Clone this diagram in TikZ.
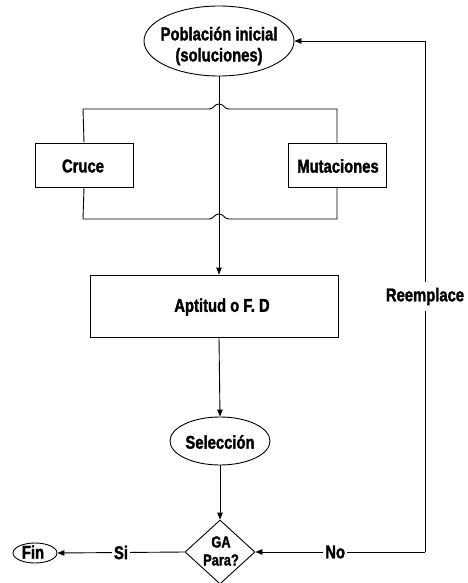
\documentclass[tikz,border=0pt]{standalone}
\usepackage{fontspec}
\setmainfont{Liberation Sans}[FakeStretch=0.8, BoldFeatures={FakeStretch=0.8, FakeBold=1.6}]
\usetikzlibrary{shapes.geometric,arrows.meta}
\begin{document}
\begin{tikzpicture}[x=1pt,y=-1pt,
  line width=0.9pt,
  txt/.style={font=\fontsize{18.5}{21}\selectfont\bfseries, inner sep=0pt, align=center},
  smalltxt/.style={font=\fontsize{16}{18}\selectfont\bfseries, inner sep=0pt, align=center},
  boxn/.style={draw, rectangle, inner sep=0pt},
  ellshape/.style={draw, ellipse, inner sep=0pt},
  lab/.style={txt, fill=white, inner xsep=2pt, inner ysep=1pt},
  arr/.style={-{Triangle[length=7pt,width=5.5pt]}}]
\useasboundingbox (0,0) rectangle (468,583);

% nodes
\node[ellshape, minimum width=150pt, minimum height=70pt] (pop) at (219,41) {};
\node[txt] (poptxt) at (219,46) {Población inicial\\(soluciones)};

\node[boxn, minimum width=98pt, minimum height=44pt] (cruce) at (84,165) {};
\node[txt] (crucetxt) at (83,166) {Cruce};
\node[boxn, minimum width=98pt, minimum height=44pt] (mut) at (337,165) {};
\node[txt] (muttxt) at (338,166) {Mutaciones};

\node[boxn, minimum width=248pt, minimum height=62pt] (apt) at (214,306) {};
\node[txt] (apttxt) at (222,307) {Aptitud o F. D};

\node[ellshape, minimum width=100pt, minimum height=48pt] (sel) at (220,441) {};
\node[txt] (seltxt) at (220,442) {Selección};

\node[draw, diamond, inner sep=0pt, minimum width=70pt, minimum height=64pt] (dia) at (220,552) {};
\node[smalltxt] (diatxt) at (221,551) {GA\\Para?};

\node[ellshape, minimum width=44pt, minimum height=20pt] (fin) at (35,553) {};
\node[txt] (fintxt) at (33,552) {Fin};

\coordinate (tr) at (425,41);
\coordinate (br) at (425,552);

% bus lines with hops
\draw (cruce.north) -- (83,109) -- (209,109)
  .. controls (214,109) and (214,104) .. (219,104)
  .. controls (224,104) and (224,109) .. (229,109) -- (337,109) -- (mut.north);
\draw (cruce.south) -- (83,219) -- (209,219)
  .. controls (214,219) and (214,214) .. (219,214)
  .. controls (224,214) and (224,219) .. (229,219) -- (337,219) -- (mut.south);

% main flow
\draw[arr] (pop.south) -- (pop.south |- apt.north);
\draw[arr] (pop.south |- apt.south) -- (sel.north);
\draw[arr] (sel.south) -- (dia.north);
\draw[arr] (dia.west) -- node[lab] (si) {Si} (fin.east);

% loop
\draw[arr] (br) -- node[lab, pos=0.53] (no) {No} (dia.east);
\draw[arr] (br) -- node[lab, pos=0.5, inner ysep=6pt] (reem) {Reemplace} (tr) -- (pop.east);
\end{tikzpicture}
\end{document}
